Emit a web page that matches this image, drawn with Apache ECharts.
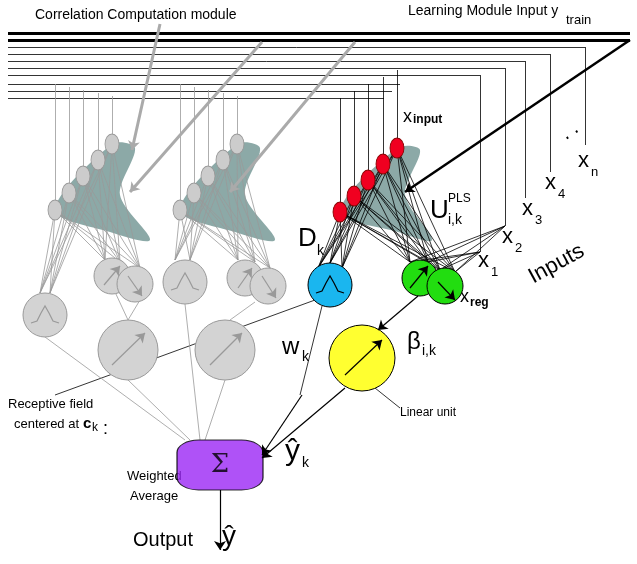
<!DOCTYPE html>
<html><head><meta charset="utf-8">
<script src="https://cdn.jsdelivr.net/npm/echarts@6/dist/echarts.min.js"></script>
<style>html,body{margin:0;background:#fff}#c{width:637px;height:564px}</style>
</head><body><div id="c"></div>
<script>
// node positions in diagram units (x right, y down)
const redNodes = [[340,212],[354,196],[368,180],[383,164],[397,148]];
const grayNodes1 = [[55,210],[69,193],[83,176],[98,160],[112,144]];
const grayNodes2 = [[180,210],[194,193],[208,176],[223,160],[237,144]];
const inputX = [585, 550, 525, 505, 480];
const inputBottom = [145, 172, 198, 226, 252];
const blueNode = [[330,285]];
const greenNodes = [[420,278],[445,286]];
const yellowNode = [[362,358]];
const grayBig = [[128,350],[225,350]];
const graySmall = [[112,276],[135,284],[245,278],[268,286]];
const grayGauss = [[45,315],[185,282]];
const sumBox = [[220,465]];
// bell shape offsets inside gaussian units
const bell = [[-14,8],[-8,6],[-4,-2],[0,-9],[4,-2],[8,6],[14,8]];

// segments
const thin = [];
inputX.forEach((x, i) => {
  const y = 47 + i * 7;
  thin.push([[8, y], [x, y]], [[x, y], [x, inputBottom[i]]]);
});
[[8,84],[8,91],[8,98]].forEach((p, i) => thin.push([p, [400 - i * 8, p[1]]]));
const targets = [[318,268],[330,263],[342,268],[410,262],[428,262],[440,270],[455,272]];
redNodes.forEach(n => targets.forEach(t => thin.push([n, t])));
[[480,252],[505,226]].forEach(s => targets.slice(3).forEach(t => thin.push([s, t])));
redNodes.forEach((n, i) => thin.push([[n[0], 98 - i * 7], n]));
thin.push([[315,300],[55,395]], [[322,306],[300,395]], [[375,388],[400,408]]);
const grayThin = [];
[[grayNodes1, [[40,293],[50,293],[105,260],[120,262],[140,268]]],
 [grayNodes2, [[175,260],[190,260],[238,260],[255,262],[270,268]]]].forEach(([ns, ts]) => {
  ns.forEach((n, i) => { ts.forEach(t => grayThin.push([n, t])); grayThin.push([[n[0], 84 + i * 3], n]); });
});
grayThin.push([[45,337],[185,440]], [[128,380],[190,440]], [[140,300],[128,320]],
  [[185,304],[200,440]], [[225,380],[205,440]], [[255,302],[230,320]], [[115,292],[128,320]]);
const arrowsBlack = [[[418,296],[378,330]], [[302,395],[262,455]], [[345,388],[262,458]],
  [[220,490],[220,550]], [[410,288],[428,266]], [[438,282],[455,300]], [[345,375],[382,340]]];
const arrowsThick = [[[630,40],[405,192]]];
const arrowsGray = [[[355,42],[230,192]], [[262,42],[130,192]], [[160,24],[132,150]]];
const grayInner = [[[112,365],[145,333]], [[210,365],[242,333]], [[104,285],[120,266]], [[128,276],[142,296]],
  [[238,288],[252,268]], [[262,276],[276,298]]];
const meshes = [[[340,212],[397,148],[420,150],[405,195],[432,240],[398,232]],
  [[55,210],[112,144],[135,148],[120,195],[150,240],[110,232]],
  [[180,210],[237,144],[260,148],[245,195],[275,240],[235,232]]];

const seg = d => d.map(c => ({ coords: c }));
const circ = (d, size, color, border) => ({
  type: 'scatter', data: d, symbolSize: size, z: 5,
  itemStyle: { color: color, borderColor: border, borderWidth: 1, opacity: 1 }
});
const lines = (d, color, w, arrow, z) => ({
  type: 'lines', coordinateSystem: 'cartesian2d', data: seg(d), z: z || 3,
  symbol: arrow ? ['none', 'arrow'] : 'none', symbolSize: 9,
  lineStyle: { color: color, width: w, opacity: 1 }
});
const bells = (centers, color) => ({
  type: 'lines', coordinateSystem: 'cartesian2d', polyline: true, z: 6,
  data: centers.map(c => ({ coords: bell.map(b => [c[0] + b[0], c[1] + b[1]]) })),
  lineStyle: { color: color, width: 1.2, opacity: 1, curveness: 0 }
});
const txt = (x, y, s, size, extra) => Object.assign({ type: 'text', left: x, top: y,
  style: { text: s, fontSize: size, fontFamily: 'Liberation Sans', fill: '#000' } }, extra || {});
const bold = (x, y, s, size) => ({ type: 'text', left: x, top: y,
  style: { text: s, fontSize: size, fontWeight: 'bold', fontFamily: 'Liberation Sans', fill: '#000' } });

const chart = echarts.init(document.getElementById('c'));
chart.setOption({
  animation: false,
  grid: { left: 0, right: 0, top: 0, bottom: 0 },
  xAxis: { type: 'value', min: 0, max: 637, show: false },
  yAxis: { type: 'value', min: 0, max: 564, inverse: true, show: false },
  series: [
    { type: 'custom', renderItem: (p, api) => {
        const m = meshes[p.dataIndex].map(c => api.coord(c));
        return { type: 'polygon', shape: { points: m, smooth: 0.3 }, style: { fill: '#4f7b78', opacity: 0.65 } };
      }, data: meshes.map((m, i) => i), z: 2 },
    lines(thin, '#000', 0.8, false),
    lines(grayThin, '#999', 0.8, false),
    lines([[[8,33],[630,33]], [[8,40],[630,40]]], '#000', 3, false),
    lines(arrowsGray, '#aaa', 3, true),
    lines(arrowsThick, '#000', 2.5, true),
    circ(grayNodes1.concat(grayNodes2), [14, 20], '#ccc', '#999'),
    circ(redNodes, [14, 20], '#f00020', '#800'),
    circ(grayGauss, 44, '#d3d3d3', '#999'),
    circ(graySmall, 36, '#d3d3d3', '#999'),
    circ(grayBig, 60, '#d3d3d3', '#999'),
    circ(blueNode, 44, '#1ab6ef', '#000'),
    circ(greenNodes, 36, '#22dd10', '#000'),
    circ(yellowNode, 66, '#ffff30', '#000'),
    bells(blueNode, '#000'),
    bells(grayGauss, '#999'),
    lines(grayInner, '#999', 1.2, true, 6),
    { type: 'scatter', data: sumBox, symbol: 'roundRect', symbolSize: [86, 50], z: 7,
      itemStyle: { color: '#9b27f5', borderColor: '#000', borderWidth: 1 },
      label: { show: true, formatter: 'Σ', fontSize: 26, color: '#000', fontFamily: 'DejaVu Serif' } },
    lines(arrowsBlack, '#000', 1.2, true, 8),
  ],
  graphic: [
    txt(35, 8, 'Correlation Computation module', 14),
    txt(408, 4, 'Learning Module Input y', 14),
    txt(566, 14, 'train', 13),
    txt(403, 108, 'x', 18), bold(413, 114, 'input', 12),
    txt(578, 150, 'x', 22), txt(591, 166, 'n', 13),
    txt(545, 172, 'x', 22), txt(558, 188, '4', 13),
    txt(522, 198, 'x', 22), txt(535, 214, '3', 13),
    txt(502, 226, 'x', 22), txt(515, 242, '2', 13),
    txt(478, 250, 'x', 22), txt(491, 266, '1', 13),
    txt(557, 118, '. .', 20, { rotation: 0.6 }),
    { type: 'text', left: 525, top: 240, rotation: 0.5,
      style: { text: 'Inputs', fontSize: 22, fontFamily: 'Liberation Sans' } },
    txt(430, 198, 'U', 26), txt(448, 193, 'PLS', 12), txt(448, 213, 'i,k', 14),
    txt(298, 226, 'D', 26), txt(317, 244, 'k', 14),
    txt(460, 288, 'x', 18), bold(470, 297, 'reg', 12),
    txt(282, 335, 'w', 24), txt(302, 350, 'k', 14),
    txt(407, 330, 'β', 24), txt(422, 344, 'i,k', 14),
    txt(400, 407, 'Linear unit', 12),
    txt(285, 437, 'ŷ', 30), txt(302, 456, 'k', 14),
    txt(8, 398, 'Receptive field', 13),
    txt(14, 418, 'centered at ', 13), bold(83, 416, 'c', 15),
    txt(92, 422, 'k', 12), txt(103, 420, ':', 18),
    txt(127, 470, 'Weighted', 13), txt(130, 490, 'Average', 13),
    txt(133, 530, 'Output', 20), txt(222, 523, 'ŷ', 28)
  ]
});
</script></body></html>
